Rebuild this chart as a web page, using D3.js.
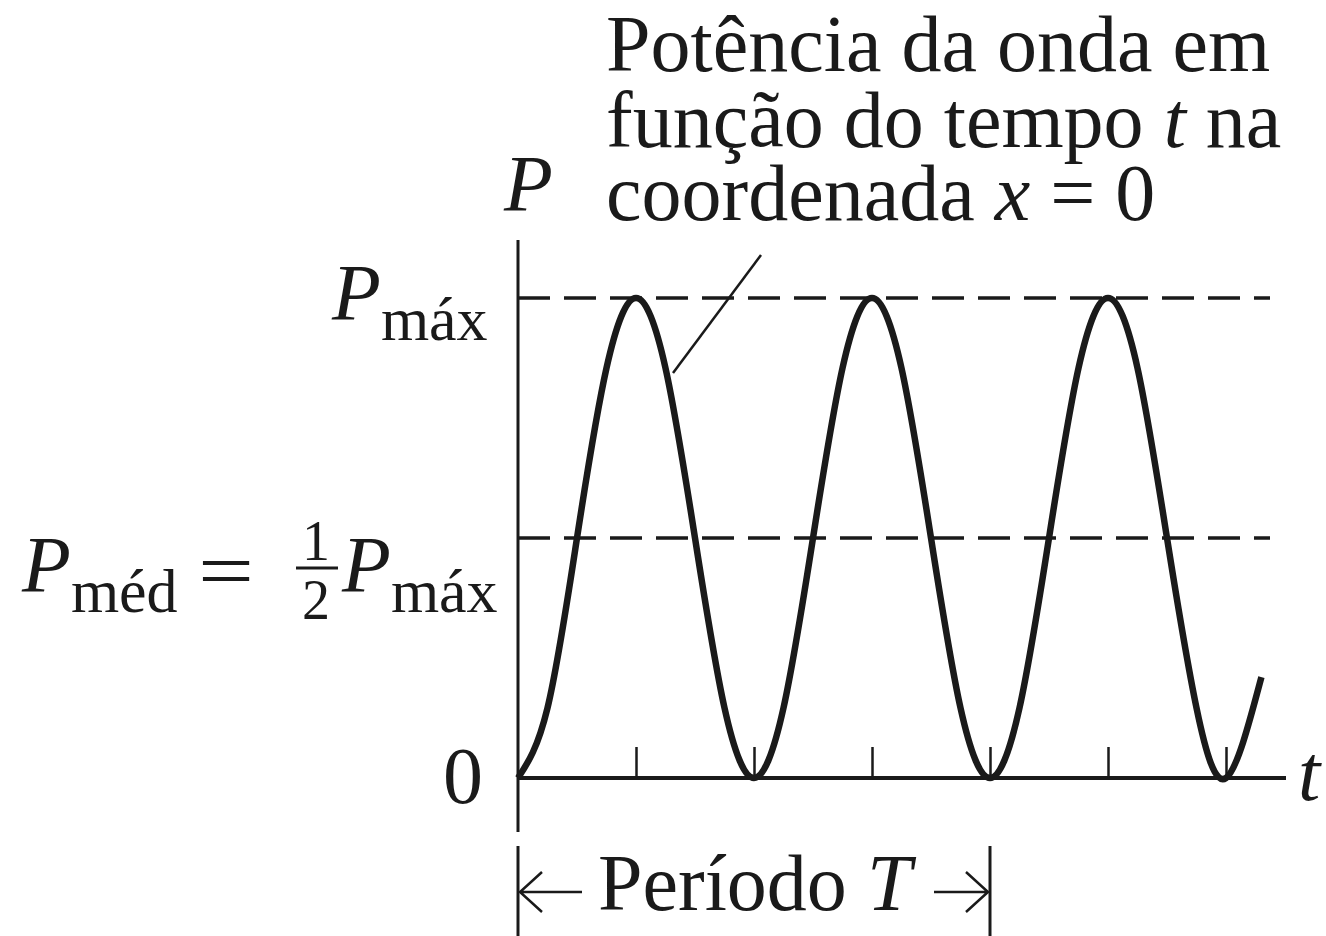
<!DOCTYPE html>
<html>
<head>
<meta charset="utf-8">
<script src="https://cdn.jsdelivr.net/npm/d3@7"></script>
<style>
  body { margin: 0; background: #fff; }
  text { font-family: "Liberation Serif", "DejaVu Serif", serif; fill: #1a1a1a; }
</style>
</head>
<body>
<div class="canvas"></div>
<script>
// data: time in units of the period T, power as fraction of P_max
const times = [0, 0.0625, 0.125, 0.1875, 0.25, 0.3125, 0.375, 0.4375, 0.5,
               0.5625, 0.625, 0.6875, 0.75, 0.8125, 0.875, 0.9375, 1,
               1.0625, 1.125, 1.1875, 1.25, 1.3125, 1.375, 1.4375, 1.5, 1.575];
const power = [0, 0.146, 0.5, 0.854, 1, 0.854, 0.5, 0.146, 0,
               0.146, 0.5, 0.854, 1, 0.854, 0.5, 0.146, 0,
               0.146, 0.5, 0.854, 1, 0.854, 0.5, 0.146, 0, 0.21];
const tickTimes = [0.25, 0.5, 0.75, 1, 1.25, 1.5];
const refLevels = [1, 0.5];
const titleLines = ['Potência da onda em', 'função do tempo ', 'coordenada '];

const svg = d3.select('.canvas')
    .append('svg')
    .attr('width', 1326)
    .attr('height', 936);

// scales
const xScale = d3.scaleLinear().domain([0, 1]).range([518, 990]);
const yScale = d3.scaleLinear().domain([0, 1]).range([778, 298]);
const ink = '#1a1a1a';

// dashed reference lines
svg.selectAll('line.ref')
    .data(refLevels)
    .enter()
    .append('line')
    .attr('class', 'ref')
    .attr('x1', xScale(0))
    .attr('x2', 1270)
    .attr('y1', d => yScale(d))
    .attr('y2', d => yScale(d))
    .attr('stroke', ink)
    .attr('stroke-width', 3.5)
    .attr('stroke-dasharray', '32 14');

// axes lines
svg.append('line')
    .attr('x1', xScale(0)).attr('x2', xScale(0))
    .attr('y1', 240).attr('y2', 832)
    .attr('stroke', ink).attr('stroke-width', 3);

svg.append('line')
    .attr('x1', xScale(0)).attr('x2', 1286)
    .attr('y1', yScale(0)).attr('y2', yScale(0))
    .attr('stroke', ink).attr('stroke-width', 4);

// ticks pointing up
const xAxis = d3.axisTop(xScale)
    .tickValues(tickTimes)
    .tickSize(31)
    .tickFormat('');

svg.append('g')
    .attr('transform', `translate(0, ${yScale(0)})`)
    .call(xAxis)
    .call(g => g.select('.domain').remove())
    .selectAll('line')
    .attr('stroke', ink)
    .attr('stroke-width', 2.5);

// power curve
const line = d3.line()
    .x((d, i) => xScale(times[i]))
    .y(d => yScale(d))
    .curve(d3.curveNatural);

svg.append('path')
    .datum(power)
    .attr('d', line)
    .attr('fill', 'none')
    .attr('stroke', ink)
    .attr('stroke-width', 6.5)
    .attr('stroke-linejoin', 'round');

// leader line from title to curve
svg.append('line')
    .attr('x1', 761).attr('y1', 255)
    .attr('x2', 673).attr('y2', 373)
    .attr('stroke', ink).attr('stroke-width', 2.5);

// title
const title = svg.append('g').attr('font-size', 80);
title.append('text').attr('x', 606).attr('y', 71).text(titleLines[0]);
const l2 = title.append('text').attr('x', 606).attr('y', 147);
l2.append('tspan').text(titleLines[1]);
l2.append('tspan').attr('font-style', 'italic').text('t');
l2.append('tspan').text(' na');
const l3 = title.append('text').attr('x', 606).attr('y', 220);
l3.append('tspan').text(titleLines[2]);
l3.append('tspan').attr('font-style', 'italic').text('x');
l3.append('tspan').text(' = 0');

// axis labels
svg.append('text').attr('x', 504).attr('y', 211)
    .attr('font-size', 80).attr('font-style', 'italic').text('P');
svg.append('text').attr('x', 1298).attr('y', 800)
    .attr('font-size', 80).attr('font-style', 'italic').text('t');
svg.append('text').attr('x', 443).attr('y', 803)
    .attr('font-size', 80).text('0');

// P max label
const pmax = svg.append('text').attr('x', 332).attr('y', yScale(1) + 22).attr('font-size', 80);
pmax.append('tspan').attr('font-style', 'italic').text('P');
pmax.append('tspan').attr('font-size', 62).attr('dy', 20).text('máx');

// P med label
const pmed = svg.append('text').attr('x', 22).attr('y', yScale(0.5) + 54).attr('font-size', 80);
pmed.append('tspan').attr('font-style', 'italic').text('P');
pmed.append('tspan').attr('font-size', 62).attr('dy', 20).text('méd');
svg.append('text').attr('x', 198).attr('y', yScale(0.5) + 60)
    .attr('font-size', 80).attr('textLength', 56).attr('lengthAdjust', 'spacingAndGlyphs').text('=');
svg.append('text').attr('x', 302).attr('y', yScale(0.5) + 22).attr('font-size', 56).text('1');
svg.append('line').attr('x1', 296).attr('x2', 338)
    .attr('y1', yScale(0.5) + 30).attr('y2', yScale(0.5) + 30)
    .attr('stroke', ink).attr('stroke-width', 3);
svg.append('text').attr('x', 302).attr('y', yScale(0.5) + 81).attr('font-size', 56).text('2');
const pm2 = svg.append('text').attr('x', 342).attr('y', yScale(0.5) + 54).attr('font-size', 80);
pm2.append('tspan').attr('font-style', 'italic').text('P');
pm2.append('tspan').attr('font-size', 62).attr('dy', 20).text('máx');

// period marker
const yArrow = 892;
[0, 1].forEach(v => {
    svg.append('line')
        .attr('x1', xScale(v)).attr('x2', xScale(v))
        .attr('y1', 846).attr('y2', 936)
        .attr('stroke', ink).attr('stroke-width', 3);
});
svg.append('path')
    .attr('d', `M${xScale(0) + 64},${yArrow} H${xScale(0) + 2} M${xScale(0) + 24},${yArrow - 20} L${xScale(0) + 2},${yArrow} L${xScale(0) + 24},${yArrow + 20}`)
    .attr('fill', 'none').attr('stroke', ink).attr('stroke-width', 2.5);
svg.append('path')
    .attr('d', `M${xScale(1) - 56},${yArrow} H${xScale(1) - 2} M${xScale(1) - 24},${yArrow - 20} L${xScale(1) - 2},${yArrow} L${xScale(1) - 24},${yArrow + 20}`)
    .attr('fill', 'none').attr('stroke', ink).attr('stroke-width', 2.5);
const per = svg.append('text').attr('x', 598).attr('y', 910).attr('font-size', 80);
per.append('tspan').text('Período ');
per.append('tspan').attr('font-style', 'italic').text('T');
</script>
</body>
</html>
